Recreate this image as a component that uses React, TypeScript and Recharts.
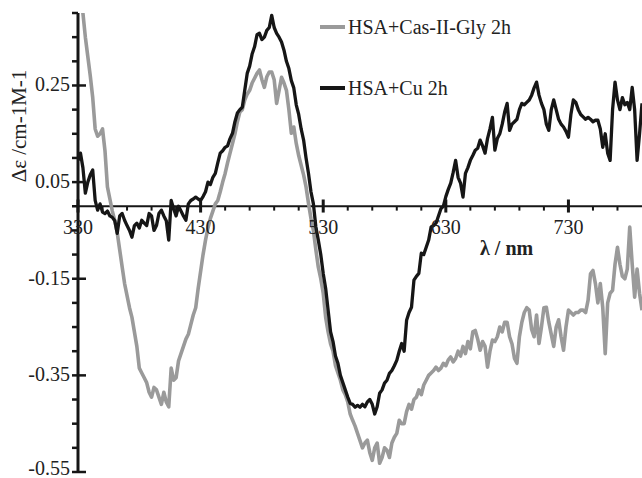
import { LineChart, Line, XAxis, YAxis, ReferenceLine, ReferenceDot, Legend } from "recharts";

const FONT = "'Liberation Serif', 'Times New Roman', serif";
const GRAY = "#9a9a9a";
const BLACK = "#161616";

// [wavelength nm, Δε] — HSA+Cas-II-Gly 2h
const casGlySpectrum: [number, number][] = [
  [330, 0.47], [332, 0.43], [334, 0.4], [336, 0.35], [338, 0.31], [340, 0.27], [342, 0.225], [344, 0.16], [346, 0.145], [348, 0.15],
  [350, 0.16], [352, 0.115], [354, 0.04], [356, 0.015], [358, -0.01], [360, -0.03], [362, -0.055], [364, -0.09], [366, -0.125], [368, -0.16],
  [370, -0.185], [372, -0.21], [374, -0.23], [376, -0.26], [378, -0.29], [380, -0.335], [382, -0.345], [384, -0.355], [386, -0.365], [388, -0.385],
  [390, -0.395], [392, -0.375], [394, -0.38], [396, -0.395], [398, -0.41], [400, -0.385], [402, -0.405], [404, -0.415], [406, -0.335], [408, -0.36],
  [410, -0.355], [412, -0.32], [414, -0.305], [416, -0.29], [418, -0.275], [420, -0.265], [422, -0.245], [424, -0.225], [426, -0.21], [428, -0.17],
  [430, -0.135], [432, -0.1], [434, -0.07], [436, -0.045], [438, -0.025], [440, -0.01], [442, 0.005], [444, 0.012], [446, 0.03], [448, 0.05],
  [450, 0.068], [452, 0.09], [454, 0.11], [456, 0.13], [458, 0.15], [460, 0.175], [462, 0.195], [464, 0.2], [466, 0.22], [468, 0.232],
  [470, 0.24], [472, 0.255], [474, 0.265], [476, 0.275], [478, 0.282], [480, 0.262], [482, 0.246], [484, 0.268], [486, 0.278], [488, 0.278],
  [490, 0.262], [492, 0.213], [494, 0.24], [496, 0.267], [498, 0.255], [500, 0.24], [502, 0.2], [504, 0.151], [506, 0.164], [508, 0.13],
  [510, 0.105], [512, 0.085], [514, 0.065], [516, 0.04], [518, 0.006], [520, -0.025], [522, -0.05], [524, -0.09], [526, -0.126], [528, -0.15],
  [530, -0.18], [532, -0.23], [534, -0.26], [536, -0.285], [538, -0.3], [540, -0.33], [542, -0.345], [544, -0.36], [546, -0.38], [548, -0.39],
  [550, -0.405], [552, -0.43], [554, -0.443], [556, -0.455], [558, -0.47], [560, -0.485], [562, -0.5], [564, -0.49], [566, -0.484], [568, -0.51],
  [570, -0.526], [572, -0.5], [574, -0.49], [576, -0.532], [578, -0.52], [580, -0.5], [582, -0.505], [584, -0.52], [586, -0.49], [588, -0.478],
  [590, -0.47], [592, -0.443], [594, -0.45], [596, -0.45], [598, -0.425], [600, -0.41], [602, -0.42], [604, -0.4], [606, -0.395], [608, -0.38],
  [610, -0.39], [612, -0.37], [614, -0.36], [616, -0.35], [618, -0.345], [620, -0.34], [622, -0.333], [624, -0.34], [626, -0.335], [628, -0.325],
  [630, -0.33], [632, -0.318], [634, -0.312], [636, -0.322], [638, -0.315], [640, -0.3], [642, -0.31], [644, -0.29], [646, -0.305], [648, -0.28],
  [650, -0.295], [652, -0.26], [654, -0.257], [656, -0.275], [658, -0.298], [660, -0.28], [662, -0.29], [664, -0.333], [666, -0.3], [668, -0.277],
  [670, -0.28], [672, -0.27], [674, -0.25], [676, -0.26], [678, -0.24], [680, -0.24], [682, -0.27], [684, -0.285], [686, -0.315], [688, -0.325],
  [690, -0.27], [692, -0.24], [694, -0.22], [696, -0.21], [698, -0.215], [700, -0.255], [702, -0.27], [704, -0.225], [706, -0.284], [708, -0.25],
  [710, -0.21], [712, -0.209], [714, -0.24], [716, -0.265], [718, -0.29], [720, -0.25], [722, -0.235], [724, -0.27], [726, -0.298], [728, -0.25],
  [730, -0.215], [732, -0.22], [734, -0.225], [736, -0.22], [738, -0.22], [740, -0.215], [742, -0.215], [744, -0.22], [746, -0.195], [748, -0.14],
  [750, -0.133], [752, -0.16], [754, -0.2], [756, -0.16], [758, -0.21], [760, -0.305], [762, -0.2], [764, -0.18], [766, -0.174], [768, -0.12],
  [770, -0.085], [772, -0.12], [774, -0.145], [776, -0.15], [778, -0.13], [780, -0.043], [782, -0.12], [784, -0.188], [786, -0.13], [788, -0.18],
  [790, -0.215],
];

// [wavelength nm, Δε] — HSA+Cu 2h
const cuSpectrum: [number, number][] = [
  [330, 0.095], [332, 0.11], [334, 0.08], [336, 0.027], [338, 0.05], [340, 0.065], [342, 0.075], [344, 0.012], [346, -0.008], [348, 0.005],
  [350, -0.012], [352, -0.015], [354, -0.01], [356, -0.02], [358, -0.023], [360, -0.03], [362, -0.056], [364, -0.02], [366, -0.015], [368, -0.029],
  [370, -0.04], [372, -0.05], [374, -0.064], [376, -0.04], [378, -0.035], [380, -0.045], [382, -0.029], [384, -0.035], [386, -0.04], [388, -0.015],
  [390, -0.02], [392, -0.05], [394, -0.04], [396, -0.015], [398, -0.008], [400, -0.02], [402, -0.03], [404, -0.07], [406, 0.012], [408, -0.005],
  [410, -0.02], [412, 0.0], [414, -0.01], [416, -0.02], [418, -0.029], [420, 0.005], [422, 0.012], [424, 0.015], [426, 0.019], [428, 0.015],
  [430, 0.012], [432, 0.02], [434, 0.03], [436, 0.05], [438, 0.045], [440, 0.06], [442, 0.068], [444, 0.09], [446, 0.11], [448, 0.115],
  [450, 0.122], [452, 0.125], [454, 0.14], [456, 0.151], [458, 0.175], [460, 0.193], [462, 0.2], [464, 0.205], [466, 0.24], [468, 0.275],
  [470, 0.29], [472, 0.315], [474, 0.33], [476, 0.355], [478, 0.358], [480, 0.345], [482, 0.35], [484, 0.364], [486, 0.37], [488, 0.395],
  [490, 0.37], [492, 0.358], [494, 0.35], [496, 0.34], [498, 0.323], [500, 0.3], [502, 0.285], [504, 0.26], [506, 0.245], [508, 0.21],
  [510, 0.19], [512, 0.16], [514, 0.137], [516, 0.1], [518, 0.068], [520, 0.03], [522, 0.005], [524, -0.043], [526, -0.07], [528, -0.1],
  [530, -0.139], [532, -0.17], [534, -0.215], [536, -0.26], [538, -0.28], [540, -0.31], [542, -0.325], [544, -0.35], [546, -0.365], [548, -0.38],
  [550, -0.395], [552, -0.408], [554, -0.41], [556, -0.416], [558, -0.412], [560, -0.416], [562, -0.41], [564, -0.415], [566, -0.405], [568, -0.4],
  [570, -0.41], [572, -0.43], [574, -0.415], [576, -0.387], [578, -0.38], [580, -0.366], [582, -0.36], [584, -0.346], [586, -0.34], [588, -0.33],
  [590, -0.319], [592, -0.3], [594, -0.284], [596, -0.3], [598, -0.236], [600, -0.22], [602, -0.209], [604, -0.153], [606, -0.145], [608, -0.139],
  [610, -0.097], [612, -0.1], [614, -0.085], [616, -0.07], [618, -0.043], [620, -0.04], [622, -0.035], [624, -0.02], [626, -0.005], [628, 0.0],
  [630, 0.02], [632, 0.035], [634, 0.048], [636, 0.07], [638, 0.095], [640, 0.06], [642, 0.048], [644, 0.019], [646, 0.068], [648, 0.08],
  [650, 0.095], [652, 0.105], [654, 0.116], [656, 0.12], [658, 0.137], [660, 0.125], [662, 0.11], [664, 0.14], [666, 0.16], [668, 0.184],
  [670, 0.116], [672, 0.14], [674, 0.15], [676, 0.17], [678, 0.195], [680, 0.213], [682, 0.157], [684, 0.17], [686, 0.175], [688, 0.18],
  [690, 0.2], [692, 0.213], [694, 0.21], [696, 0.215], [698, 0.22], [700, 0.23], [702, 0.245], [704, 0.257], [706, 0.23], [708, 0.213],
  [710, 0.2], [712, 0.17], [714, 0.157], [716, 0.2], [718, 0.22], [720, 0.2], [722, 0.18], [724, 0.17], [726, 0.164], [728, 0.155],
  [730, 0.143], [732, 0.19], [734, 0.22], [736, 0.215], [738, 0.2], [740, 0.19], [742, 0.185], [744, 0.18], [746, 0.184], [748, 0.18],
  [750, 0.175], [752, 0.178], [754, 0.178], [756, 0.16], [758, 0.122], [760, 0.15], [762, 0.11], [764, 0.095], [766, 0.2], [768, 0.257],
  [770, 0.22], [772, 0.2], [774, 0.225], [776, 0.21], [778, 0.215], [780, 0.2], [782, 0.246], [784, 0.2], [786, 0.095], [788, 0.15],
  [790, 0.213],
];

const yTicks = [0.4, 0.35, 0.3, 0.25, 0.2, 0.15, 0.1, 0.05, 0, -0.05, -0.1, -0.15, -0.2, -0.25, -0.3, -0.35, -0.4, -0.45, -0.5, -0.55];
const yLabelTicks = [0.25, 0.05, -0.15, -0.35, -0.55];
const xMajorTicks = [330, 430, 530, 630, 730];
const xMinorTicks = [350, 370, 390, 410, 450, 470, 490, 510, 550, 570, 590, 610, 650, 670, 690, 710, 750, 770];

const casData = casGlySpectrum.map(([wl, v]) => ({ wl, v }));
const cuData = cuSpectrum.map(([wl, v]) => ({ wl, v }));

function YTick(props: any) {
  const { x, y, payload } = props;
  const major = yLabelTicks.includes(payload.value);
  // the lowest label sits on the bottom edge, lift it a little so it stays inside
  const dy = payload.value === -0.55 ? "0.15em" : "0.3em";
  return (
    <g>
      <line x1={x - 6} x2={major ? x + 8 : x} y1={y} y2={y} stroke={BLACK} strokeWidth={2.5} />
      {major && (
        <text x={x - 8} y={y} dy={dy} textAnchor="end" fontSize={20} fontFamily={FONT} fill="#222">
          {payload.value}
        </text>
      )}
    </g>
  );
}

function renderLegend(props: any) {
  const items = props.payload || [];
  return (
    <div style={{ fontFamily: FONT, fontSize: 20, color: "#222" }}>
      {items.map((item: any) => (
        <div key={item.value} style={{ display: "flex", alignItems: "center", height: 26, marginBottom: 35 }}>
          <div style={{ width: 25, height: 4, background: item.color, marginRight: 3 }} />
          <span>{item.value}</span>
        </div>
      ))}
    </div>
  );
}

export default function App() {
  return (
    <div style={{ position: "fixed", left: 0, top: 0, width: 642, height: 478, background: "#fff", overflow: "hidden" }}>
      <LineChart width={642} height={478} margin={{ top: 13, right: 0, bottom: 6, left: 0 }}>
        <XAxis dataKey="wl" type="number" domain={[330, 790]} hide allowDataOverflow />
        <YAxis
          type="number"
          domain={[-0.55, 0.4]}
          ticks={yTicks}
          interval={0}
          width={78}
          tickSize={0}
          tickMargin={0}
          tickLine={false}
          tick={<YTick />}
          axisLine={{ stroke: BLACK, strokeWidth: 3 }}
          allowDataOverflow
        />
        <ReferenceLine y={0} stroke={BLACK} strokeWidth={2} />
        {xMinorTicks.map((t) => (
          <ReferenceLine key={"m" + t} segment={[{ x: t, y: 0 }, { x: t, y: -0.009 }]} stroke={BLACK} strokeWidth={2} />
        ))}
        {xMajorTicks.map((t) => (
          <ReferenceLine key={"M" + t} segment={[{ x: t, y: 0.014 }, { x: t, y: -0.013 }]} stroke={BLACK} strokeWidth={3} />
        ))}
        {xMajorTicks.map((t) => (
          <ReferenceDot
            key={"l" + t}
            x={t}
            y={0}
            r={0}
            fill="none"
            stroke="none"
            label={{ value: String(t), position: "bottom", offset: 14, fontSize: 20, fontFamily: FONT, fill: "#222" }}
          />
        ))}
        <Line
          data={casData}
          dataKey="v"
          name="HSA+Cas-II-Gly 2h"
          stroke={GRAY}
          strokeWidth={3.6}
          dot={false}
          type="linear"
          strokeLinejoin="round"
          isAnimationActive={false}
        />
        <Line
          data={cuData}
          dataKey="v"
          name="HSA+Cu 2h"
          stroke={BLACK}
          strokeWidth={3.3}
          dot={false}
          type="linear"
          strokeLinejoin="round"
          isAnimationActive={false}
        />
        <Legend
          layout="vertical"
          align="center"
          verticalAlign="middle"
          content={renderLegend}
          wrapperStyle={{ left: 320, top: 14, width: 260 }}
        />
      </LineChart>
      <div
        style={{
          position: "absolute",
          left: 19,
          top: 126,
          transform: "translate(-50%, -50%) rotate(-90deg)",
          fontFamily: FONT,
          fontSize: 21,
          color: "#222",
          whiteSpace: "nowrap",
        }}
      >
        Δε /cm-1M-1
      </div>
      <div
        style={{
          position: "absolute",
          left: 480,
          top: 237,
          fontFamily: FONT,
          fontSize: 20,
          fontWeight: "bold",
          color: "#222",
          whiteSpace: "nowrap",
        }}
      >
        λ / nm
      </div>
    </div>
  );
}
